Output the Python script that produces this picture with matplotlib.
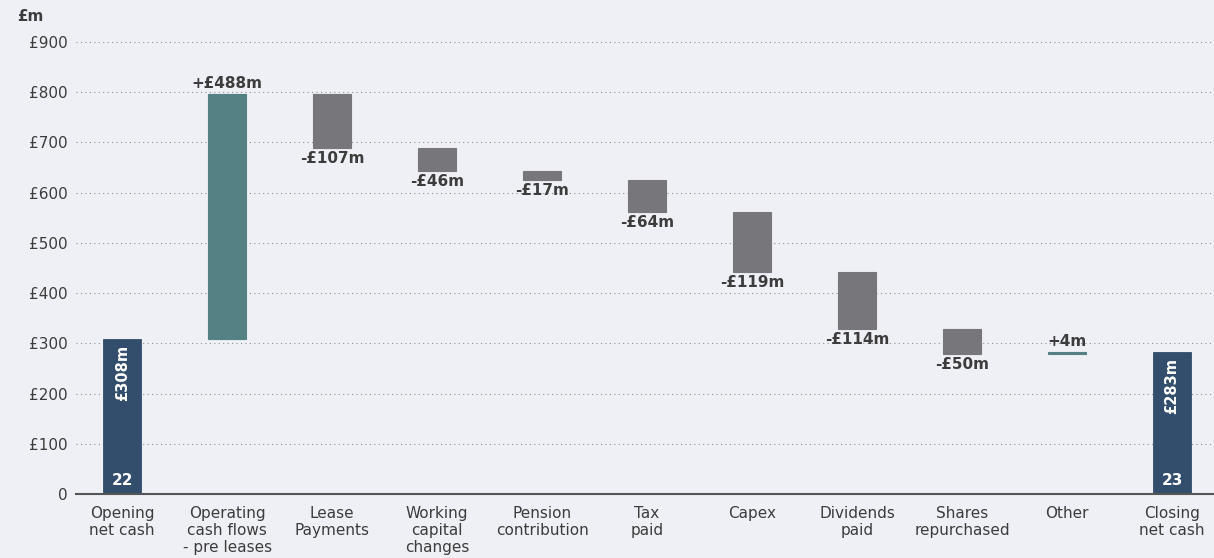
import numpy as np
import matplotlib.pyplot as plt

# Data
categories = ['Opening\nnet cash', 'Operating\ncash flows\n- pre leases', 'Lease\nPayments',
              'Working\ncapital\nchanges', 'Pension\ncontribution', 'Tax\npaid', 'Capex',
              'Dividends\npaid', 'Shares\nrepurchased', 'Other', 'Closing\nnet cash']
opening = 308
changes = [488, -107, -46, -17, -64, -119, -114, -50, 4]
closing = 283
change_labels = ['+£488m', '-£107m', '-£46m', '-£17m', '-£64m', '-£119m', '-£114m', '-£50m', '+4m']
total_labels = ['£308m', '£283m']
year_labels = ['22', '23']
yticks = [0, 100, 200, 300, 400, 500, 600, 700, 800, 900]
ytick_labels = ['0', '£100', '£200', '£300', '£400', '£500', '£600', '£700', '£800', '£900']

navy = '#324e6c'
teal = '#538184'
grey = '#76767b'
text_c = '#3c3c3c'
bg = '#eff0f5'

fig = plt.figure(figsize=(12.14, 5.58), dpi=100, facecolor=bg)
ax = fig.add_axes([0.0626, 0.1147, 0.9374, 0.81])
ax.set_facecolor(bg)

width = 0.36
x = np.arange(len(categories))

# totals
ax.bar([0, 10], [opening, closing], width=width, color=navy, edgecolor=navy, linewidth=0.6, zorder=3)

# changes
running = opening
for i, (c, lab) in enumerate(zip(changes, change_labels)):
    pos = i + 1
    bottom = running if c >= 0 else running + c
    col = teal if c >= 0 else grey
    ax.bar(pos, abs(c), bottom=bottom, width=width, color=col, edgecolor=col, linewidth=0.8, zorder=3)
    if c >= 0:
        ax.text(pos, running + c + 6, lab, ha='center', va='bottom', fontsize=11,
                fontweight='bold', color=text_c)
    else:
        ax.text(pos, running + c - 6, lab, ha='center', va='top', fontsize=11,
                fontweight='bold', color=text_c)
    running += c

# labels inside totals
for pos, val, tl, yl in zip([0, 10], [opening, closing], total_labels, year_labels):
    ax.text(pos, val - 12, tl, rotation=90, ha='center', va='top', fontsize=10.5,
            fontweight='bold', color='white', zorder=4)
    ax.text(pos, 12, yl, ha='center', va='bottom', fontsize=11,
            fontweight='bold', color='white', zorder=4)

ax.set_xlim(-0.44, 10.4)
ax.set_ylim(0, 900)
ax.set_yticks(yticks)
ax.set_yticklabels(ytick_labels, fontsize=11, color=text_c)
ax.set_xticks(x)
ax.set_xticklabels(categories, fontsize=11, color=text_c, linespacing=1.15)
ax.tick_params(axis='both', length=0, pad=6)
ax.tick_params(axis='x', pad=9)

ax.yaxis.grid(True, linestyle=(0, (1, 3)), color='#8f8f8f', linewidth=0.8, zorder=0)
for s in ['top', 'right', 'left']:
    ax.spines[s].set_visible(False)
ax.spines['bottom'].set_color('#555555')
ax.spines['bottom'].set_linewidth(1.5)
ax.spines['bottom'].set_zorder(5)

fig.text(0.014, 0.97, '£m', fontsize=11, fontweight='bold', color=text_c, va='center')

fig.savefig('out.png', dpi=100, facecolor=bg)
